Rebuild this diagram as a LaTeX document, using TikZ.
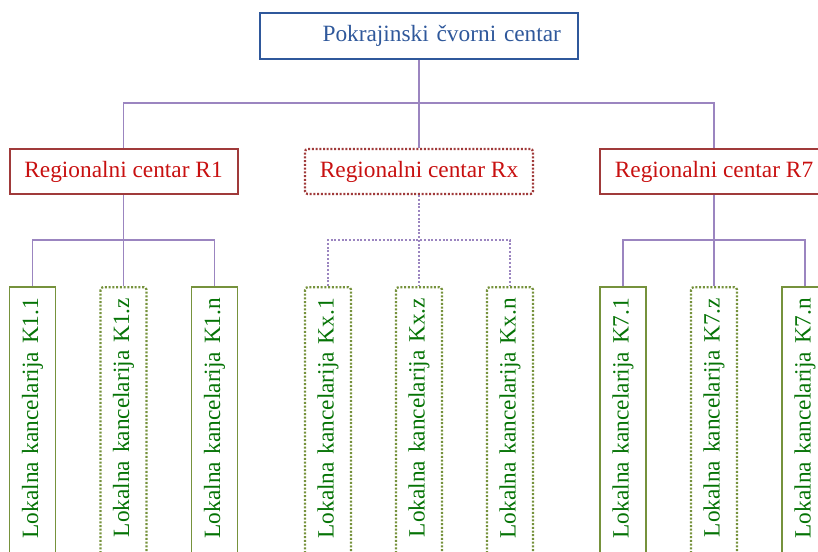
\documentclass[tikz,border=0pt]{standalone}
\usepackage{fontspec}
\setmainfont{Liberation Serif}
\usetikzlibrary{positioning,calc}
\definecolor{navy}{RGB}{47,88,155}
\definecolor{wine}{RGB}{160,58,58}
\definecolor{scarlet}{RGB}{200,16,16}
\definecolor{olive}{RGB}{118,146,60}
\definecolor{forest}{RGB}{5,115,5}
\definecolor{lilac}{RGB}{155,133,192}

\begin{document}
\begin{tikzpicture}[x=0.75pt,y=-0.75pt,font=\fontsize{17.5}{20}\selectfont,
    link/.style={draw=lilac,line width=1.4pt},
    linkdot/.style={link,line width=1.6pt,dash pattern=on 1.5pt off 1.3pt},
    head/.style={draw=navy,line width=1.6pt,text=navy,minimum height=34.5pt,text width=213pt,inner xsep=12.75pt,align=right},
    region/.style={draw=wine,line width=1.5pt,text=scarlet,minimum width=171pt,minimum height=33.75pt},
    regiondot/.style={region,line width=1.7pt,dash pattern=on 1.5pt off 1.3pt,rounded corners=2pt},
    office/.style={draw=olive,line width=1.4pt,text=forest,rotate=90,anchor=east,minimum height=34.5pt,text width=189pt,inner xsep=8.25pt,inner ysep=0pt,align=right},
    officedot/.style={office,line width=1.7pt,dash pattern=on 1.5pt off 1.3pt,rounded corners=2pt}]
    \useasboundingbox (0,0) rectangle (818,551);
    \clip (0,0) rectangle (818,551);
    \node[head] (pcc) at (419,36) {Pokrajinski čvorni centar};
    \foreach \g/\cx/\rs/\ls/\lk in {1/123.5/region/office/link, x/419/regiondot/officedot/linkdot, 7/714/region/office/link}
    {
      \node[\rs] (r\g) at (\cx,171.5) {Regionalni centar R\g};
      \node[\ls] (k\g-1) at (\cx-91,286) {Lokalna kancelarija K\g.1};
      \node[officedot] (k\g-z) at (\cx,286) {Lokalna kancelarija K\g.z};
      \node[\ls] (k\g-n) at (\cx+91,286) {Lokalna kancelarija K\g.n};
      \draw[\lk] (r\g.south) -- (k\g-z.east);
      \draw[\lk] (k\g-1.east) -- ++(0,-46) -| (k\g-n.east);
    }
    \coordinate (bus) at (419,103);
    \draw[link] (pcc.south) -- (bus);
    \draw[link] (r1.north) |- (bus) -| (r7.north);
    \draw[link] (bus) -- (rx.north);
  \end{tikzpicture}
\end{document}
